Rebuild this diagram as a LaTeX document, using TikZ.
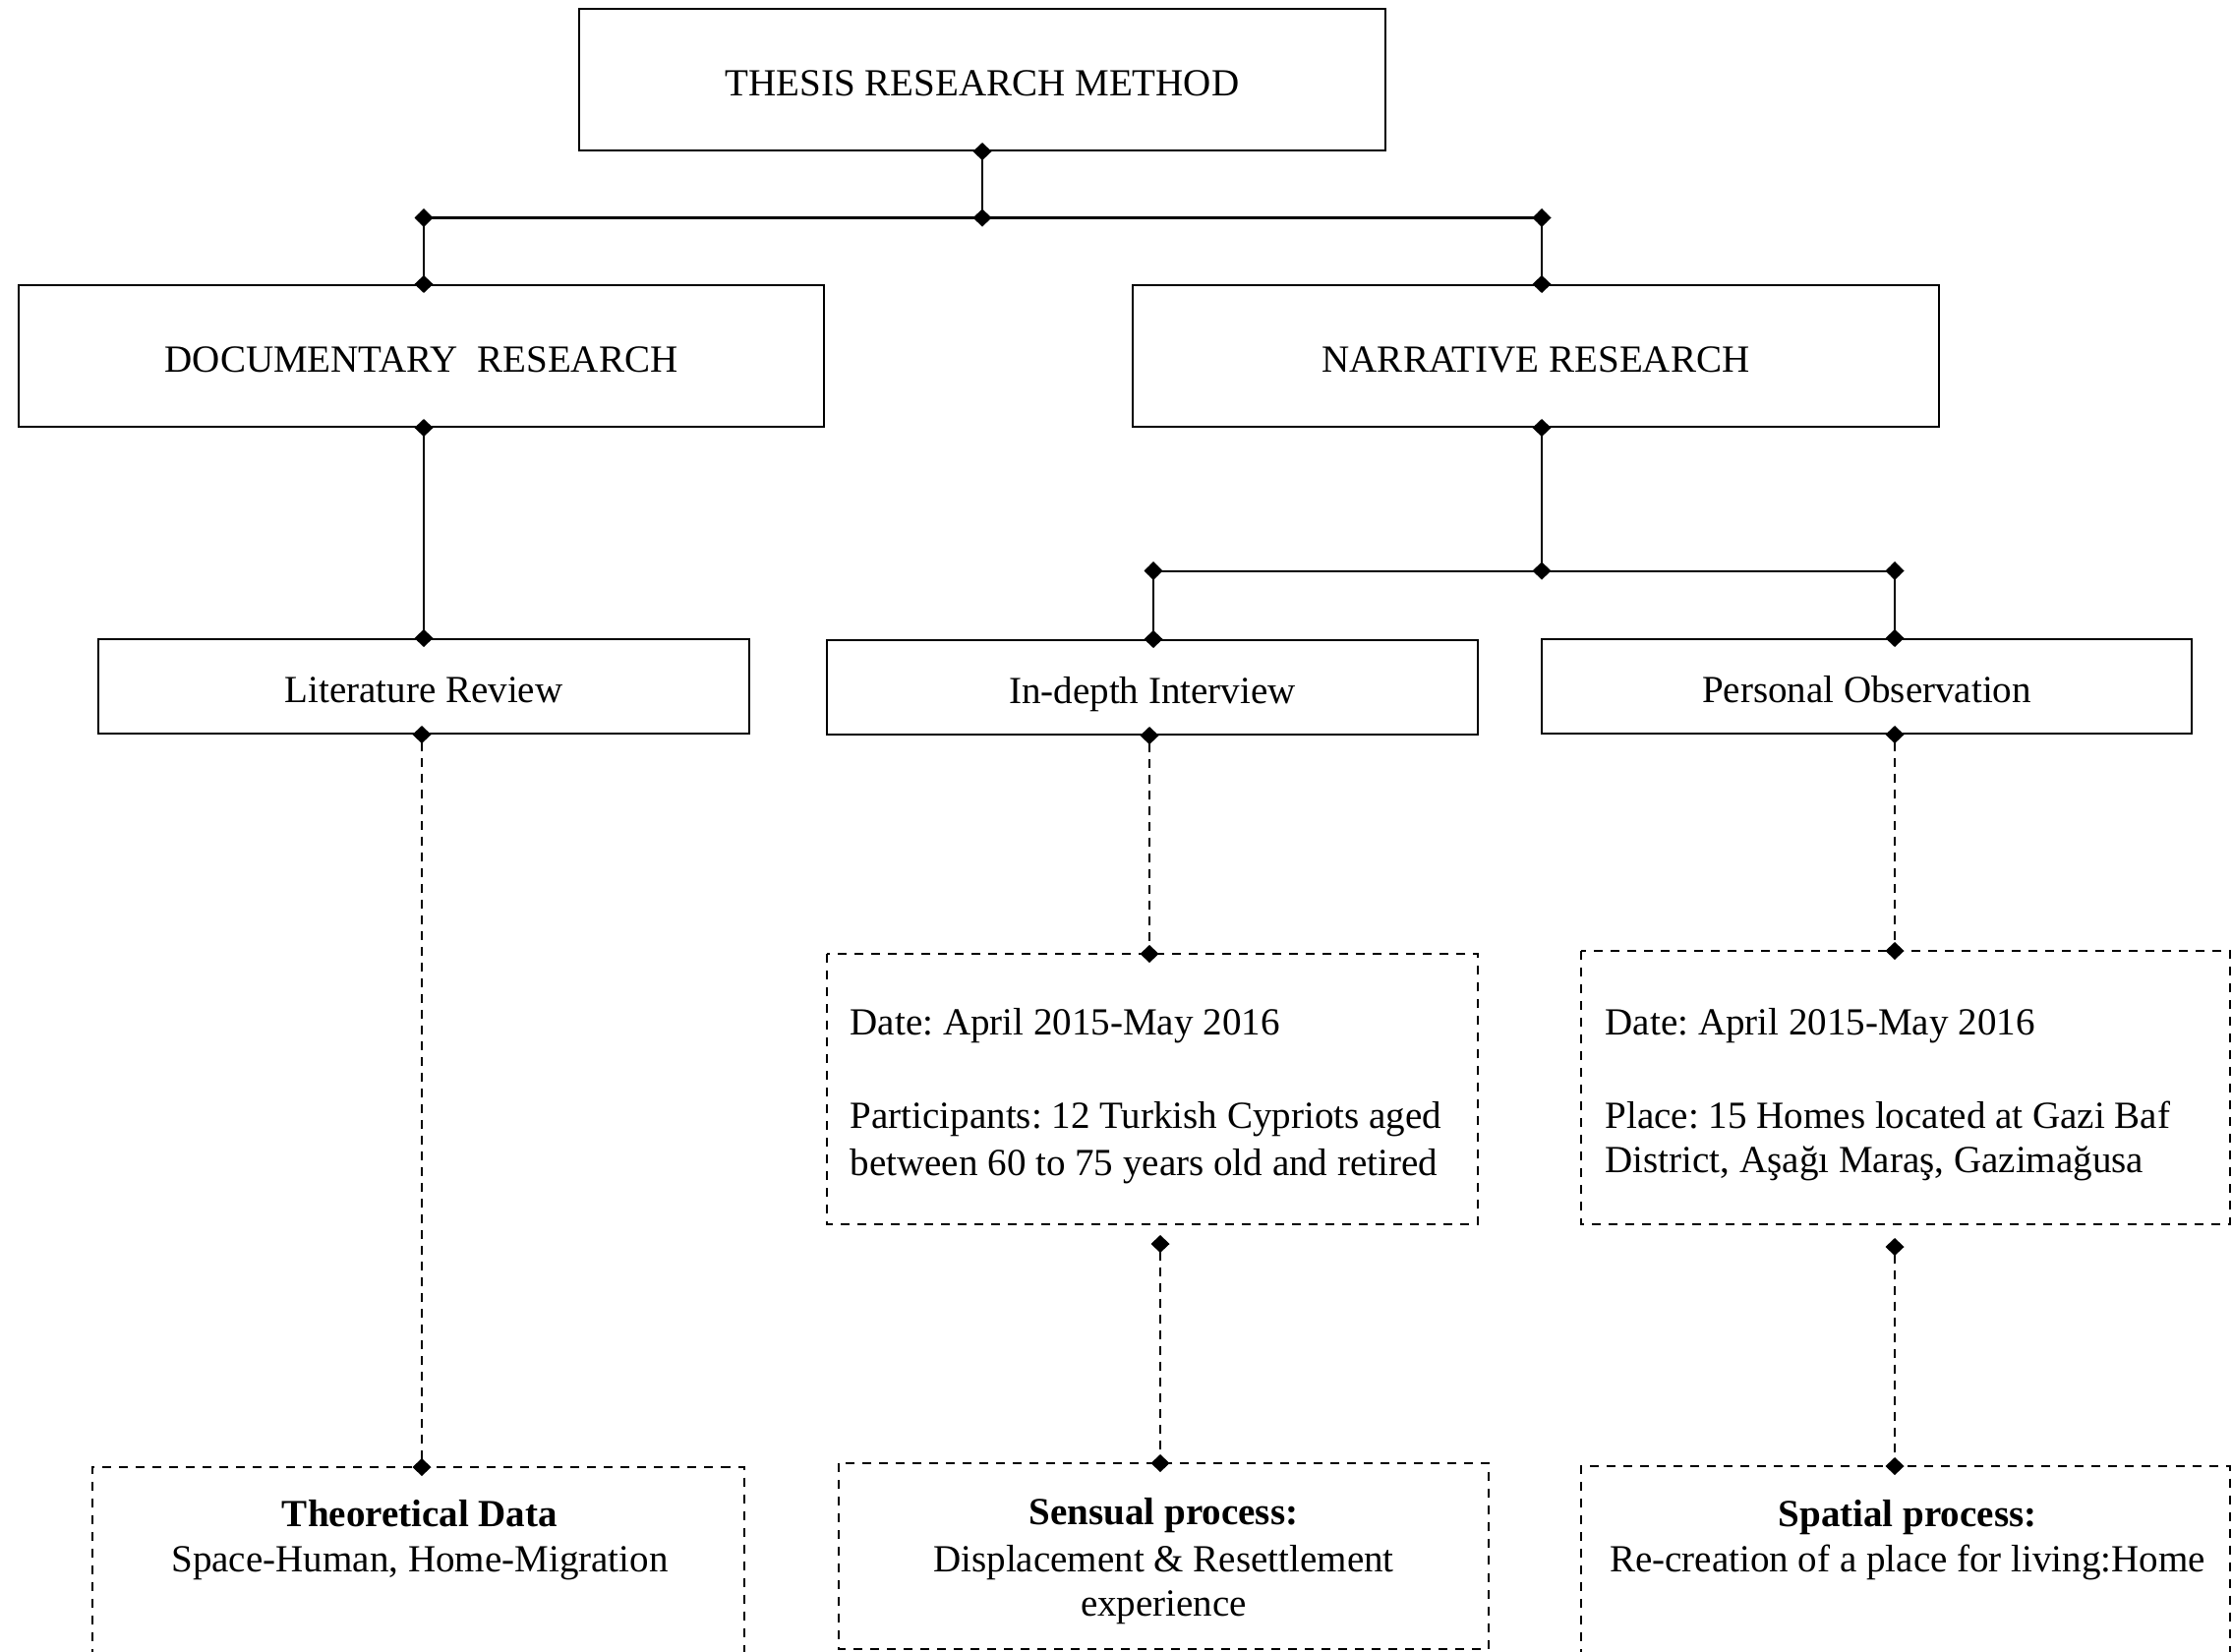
\documentclass[tikz,border=0pt]{standalone}
\usepackage{fontspec}
\setmainfont{Liberation Serif}
\usetikzlibrary{arrows.meta,calc}
\frenchspacing

\tikzset{
  every node/.style={font=\fontsize{11.1pt}{14pt}\selectfont, inner sep=0pt},
  solidbox/.style={draw, line width=0.02cm, rectangle, align=center, text height=0.33cm, text depth=0cm},
  dashbox/.style={draw, line width=0.02cm, dash pattern=on 0.09cm off 0.08cm},
  conn/.style={line width=0.02cm, {Diamond[length=0.18cm,width=0.19cm]}-{Diamond[length=0.18cm,width=0.19cm]},
    shorten <=-0.09cm, shorten >=-0.09cm},
  dconn/.style={conn, dash pattern=on 0.09cm off 0.07cm},
  txt/.style={anchor=base west},
  ctxt/.style={anchor=base}
}

\begin{document}
\begin{tikzpicture}[x=0.01cm, y=-0.01cm]
  \useasboundingbox (0,0) rectangle (2270,1679);
  \clip (0,0) rectangle (2270,1679);

  % solid boxes
  \node[solidbox, minimum width=8.2cm, minimum height=1.44cm] (top) at (999,81) {THESIS RESEARCH METHOD};
  \node[solidbox, minimum width=8.19cm, minimum height=1.44cm] (doc) at (428.5,362) {DOCUMENTARY\ \ RESEARCH};
  \node[solidbox, minimum width=8.2cm, minimum height=1.44cm] (nar) at (1562,362) {NARRATIVE RESEARCH};
  \node[solidbox, minimum width=6.62cm, minimum height=0.96cm] (lit) at (431,698) {Literature Review};
  \node[solidbox, minimum width=6.62cm, minimum height=0.96cm] (int) at (1172,699) {In-depth Interview};
  \node[solidbox, minimum width=6.61cm, minimum height=0.96cm] (obs) at (1898.5,698) {Personal Observation};

  % dashed boxes
  \draw[dashbox] (841,970) rectangle (1503,1245);
  \coordinate (intinfo) at (1172,970);
  \draw[dashbox] (1608,967) rectangle (2268,1245);
  \coordinate (obsinfo) at (1938,967);
  \draw[dashbox] (94,1720) -- (94,1492) -- (757,1492) -- (757,1720);
  \coordinate (theo) at (429,1492);
  \draw[dashbox] (853,1488) rectangle (1514,1677);
  \coordinate (sens) at (1180,1488);
  \draw[dashbox] (1608,1720) -- (1608,1491) -- (2268,1491) -- (2268,1720);
  \coordinate (spat) at (1927,1491);

  % texts in dashed boxes
  \node[txt] (i1) at (864,1052) {Date: April 2015-May 2016};
  \node[txt] (i2) at (864,1147) {Participants: 12 Turkish Cypriots aged};
  \node[txt] (i3) at (864,1195) {between 60 to 75 years old and retired};
  \node[txt] (o1) at (1632,1052) {Date: April 2015-May 2016};
  \node[txt] (o2) at (1632,1147) {Place: 15 Homes located at Gazi Baf};
  \node[txt] (o3) at (1632,1192) {District, Aşağı Maraş, Gazimağusa};
  \node[ctxt] (t1) at (427,1552) {\bfseries Theoretical Data};
  \node[ctxt] (t2) at (427,1598) {Space-Human, Home-Migration};
  \node[ctxt] (s1) at (1183.5,1550) {\bfseries Sensual process:};
  \node[ctxt] (s2) at (1183.5,1598) {Displacement \& Resettlement};
  \node[ctxt] (s3) at (1183.5,1643) {experience};
  \node[ctxt] (p1) at (1940,1552) {\bfseries Spatial process:};
  \node[ctxt] (p2) at (1940,1598) {Re-creation of a place for living:Home};

  % junction points
  \coordinate (hM) at (999,221.5);
  \coordinate (hL) at (431,221.5);
  \coordinate (hR) at (1568,221.5);
  \coordinate (nM) at (1568,580.5);
  \coordinate (nL) at (1173,580.5);
  \coordinate (nR) at (1927,580.5);
  \coordinate (fs) at (1180,1265);
  \coordinate (fp) at (1927,1268);

  % solid connectors
  \draw[conn] (top.south) -- (hM);
  \draw[conn] (hL) -- (hR);
  \draw[conn] (hL) -- (hL |- doc.north);
  \draw[conn] (hR) -- (hR |- nar.north);
  \draw[conn] (hL |- doc.south) -- (hL |- lit.north);
  \draw[conn] (hR |- nar.south) -- (nM);
  \draw[conn] (nL) -- (nR);
  \draw[conn] (nL) -- (nL |- int.north);
  \draw[conn] (nR) -- (nR |- obs.north);

  % dashed connectors
  \draw[dconn] (theo |- lit.south) -- (theo);
  \draw[dconn] ([xshift=-0.04cm]nL |- int.south) -- ([xshift=-0.04cm]nL |- intinfo);
  \draw[dconn] (nR |- obs.south) -- (nR |- obsinfo);
  \draw[dconn] (fs) -- (sens);
  \draw[dconn] (fp) -- (spat);
\end{tikzpicture}
\end{document}
